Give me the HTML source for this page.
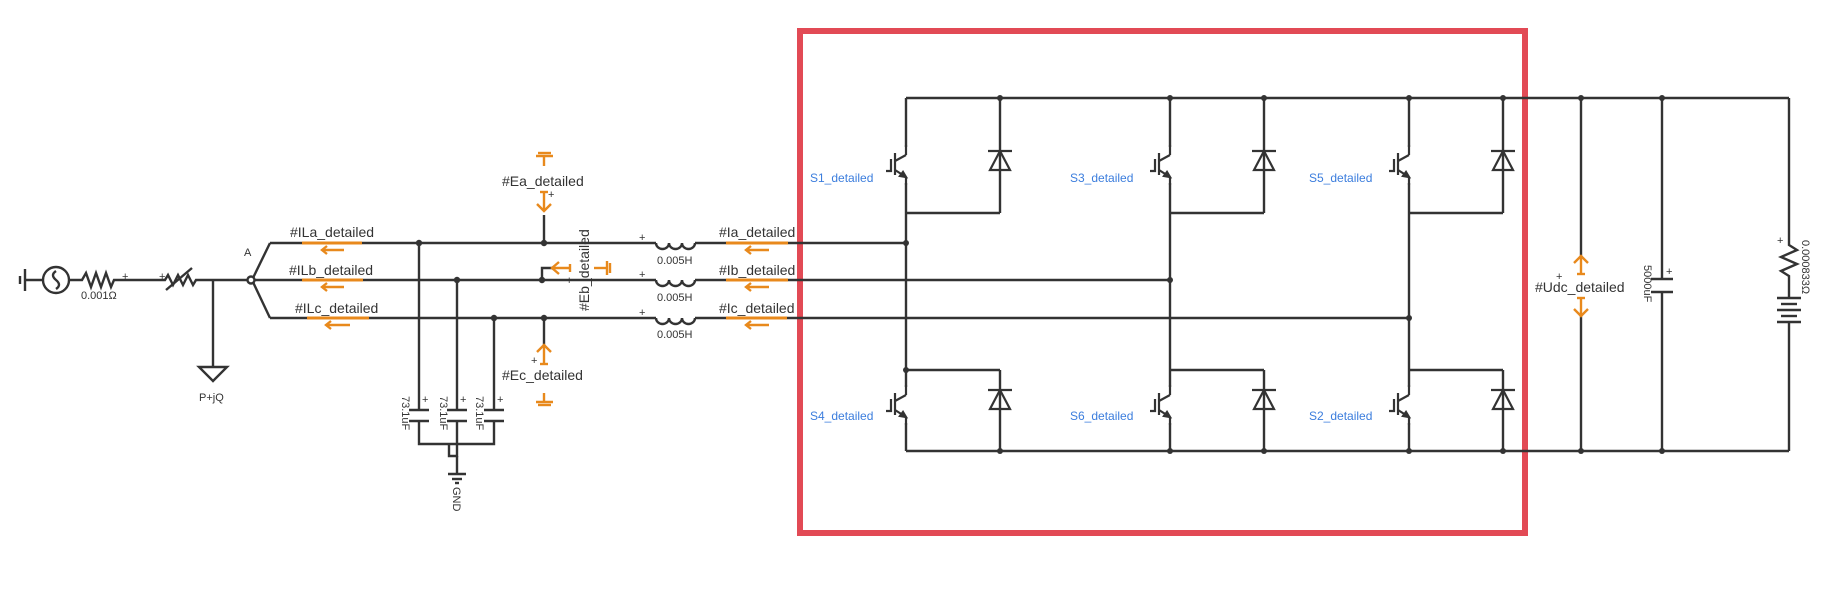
<!DOCTYPE html>
<html><head><meta charset="utf-8"><style>
html,body{margin:0;padding:0;background:#fff;}
svg{display:block;}
text{font-family:"Liberation Sans","DejaVu Sans",sans-serif;}
</style></head><body>
<svg width="1844" height="589" viewBox="0 0 1844 589" xmlns="http://www.w3.org/2000/svg">
<defs>
<g id="igbtU">
 <line x1="0" y1="-20" x2="0" y2="-10" />
 <line x1="0" y1="-10" x2="-11" y2="-4" />
 <line x1="-11" y1="-12" x2="-11" y2="10" />
 <polyline points="-20,6 -15,6 -15,-6" fill="none"/>
 <line x1="-11" y1="5" x2="0" y2="12" />
 <polygon points="0,12 -6,11 -3,7" fill="#333"/>
 <line x1="0" y1="12" x2="0" y2="20" />
</g>
<g id="diode">
 <line x1="-12" y1="-11" x2="12" y2="-11"/>
 <polygon points="0,-11 -10,8 10,8" fill="none"/>
</g>
</defs>

<rect x="800" y="31" width="725" height="502" fill="none" stroke="#e24a55" stroke-width="6"/>

<g stroke="#333" stroke-width="2.4" fill="none">
 <line x1="906" y1="98" x2="1789" y2="98"/>
 <line x1="906" y1="451" x2="1789" y2="451"/>
 <line x1="1789" y1="98" x2="1789" y2="240"/>
 <line x1="1789" y1="322" x2="1789" y2="451"/>

 <g id="leg1">
  <line x1="906" y1="98" x2="906" y2="147"/>
  <line x1="906" y1="183" x2="906" y2="387"/>
  <line x1="906" y1="423" x2="906" y2="451"/>
  <line x1="906" y1="213" x2="1000" y2="213"/>
  <line x1="1000" y1="98" x2="1000" y2="213"/>
  <line x1="906" y1="370" x2="1000" y2="370"/>
  <line x1="1000" y1="370" x2="1000" y2="451"/>
 </g>
 <use href="#leg1" x="264"/>
 <use href="#leg1" x="503"/>
 <g stroke-width="2.2">
  <use href="#igbtU" x="906" y="165"/><use href="#igbtU" x="906" y="405"/>
  <use href="#igbtU" x="1170" y="165"/><use href="#igbtU" x="1170" y="405"/>
  <use href="#igbtU" x="1409" y="165"/><use href="#igbtU" x="1409" y="405"/>
 </g>
 <g stroke-width="2.2" fill="#fff">
  <use href="#diode" x="1000" y="162"/><use href="#diode" x="1000" y="401"/>
  <use href="#diode" x="1264" y="162"/><use href="#diode" x="1264" y="401"/>
  <use href="#diode" x="1503" y="162"/><use href="#diode" x="1503" y="401"/>
 </g>

 <line x1="1581" y1="98" x2="1581" y2="256"/>
 <line x1="1581" y1="316" x2="1581" y2="451"/>
 <line x1="1662" y1="98" x2="1662" y2="279"/>
 <line x1="1662" y1="292" x2="1662" y2="451"/>
 <line x1="1651" y1="279" x2="1673" y2="279"/>
 <line x1="1651" y1="292" x2="1673" y2="292"/>
 <polyline points="1789,240 1789,245 1797,250 1781,257 1797,264 1781,271 1789,276 1789,298"/>
 <line x1="1777" y1="298" x2="1801" y2="298"/>
 <line x1="1781" y1="304" x2="1797" y2="304"/>
 <line x1="1777" y1="310" x2="1801" y2="310"/>
 <line x1="1781" y1="316" x2="1797" y2="316"/>
 <line x1="1777" y1="322" x2="1801" y2="322"/>

 <line x1="270" y1="243" x2="656" y2="243"/>
 <line x1="695" y1="243" x2="906" y2="243"/>
 <line x1="252" y1="280" x2="656" y2="280"/>
 <line x1="695" y1="280" x2="1170" y2="280"/>
 <line x1="270" y1="318" x2="656" y2="318"/>
 <line x1="695" y1="318" x2="1409" y2="318"/>
 <line x1="252" y1="280" x2="270" y2="243"/>
 <line x1="252" y1="280" x2="270" y2="318"/>
 <path d="M656 243 a6.5 6 0 0 0 13 0 a6.5 6 0 0 0 13 0 a6.5 6 0 0 0 13 0"/>
 <path d="M656 280 a6.5 6 0 0 0 13 0 a6.5 6 0 0 0 13 0 a6.5 6 0 0 0 13 0"/>
 <path d="M656 318 a6.5 6 0 0 0 13 0 a6.5 6 0 0 0 13 0 a6.5 6 0 0 0 13 0"/>

 <line x1="20" y1="276" x2="20" y2="284"/>
 <line x1="25" y1="269" x2="25" y2="291"/>
 <line x1="25" y1="280" x2="43" y2="280"/>
 <circle cx="56" cy="280" r="13"/>
 <path d="M56 271 q-6 4 0 9 q6 5 0 9"/>
 <polyline points="69,280 82,280 86,273 91,287 96,273 101,287 106,273 111,287 114,280 165,280 168,275 173,285 178,275 183,285 188,275 193,285 196,280 252,280"/>
 <line x1="166" y1="290" x2="192" y2="268"/>
 <line x1="213" y1="280" x2="213" y2="367"/>
 <polygon points="199,367 227,367 213,381"/>
 <circle cx="251" cy="280" r="3.5" fill="#fff"/>

 <line x1="419" y1="243" x2="419" y2="410"/>
 <line x1="457" y1="280" x2="457" y2="410"/>
 <line x1="494" y1="318" x2="494" y2="410"/>
 <line x1="409" y1="410" x2="429" y2="410"/><line x1="409" y1="421" x2="429" y2="421"/>
 <line x1="447" y1="410" x2="467" y2="410"/><line x1="447" y1="421" x2="467" y2="421"/>
 <line x1="484" y1="410" x2="504" y2="410"/><line x1="484" y1="421" x2="504" y2="421"/>
 <polyline points="419,421 419,444 494,444 494,421"/>
 <line x1="457" y1="421" x2="457" y2="444"/>
 <polyline points="457,444 457,456 449,456 449,444"/>
 <line x1="457" y1="456" x2="457" y2="474"/>
 <line x1="448" y1="474" x2="466" y2="474"/>
 <line x1="452" y1="479" x2="462" y2="479"/>
 <line x1="455" y1="483" x2="459" y2="483"/>

 <line x1="544" y1="215" x2="544" y2="243"/>
 <line x1="544" y1="318" x2="544" y2="345"/>
 <polyline points="542,280 542,268 552,268"/>
</g>

<g fill="#333">
 <circle cx="419" cy="243" r="3.2"/><circle cx="457" cy="280" r="3.2"/><circle cx="494" cy="318" r="3.2"/>
 <circle cx="544" cy="243" r="3.2"/><circle cx="542" cy="280" r="3.2"/><circle cx="544" cy="318" r="3.2"/>
 <circle cx="906" cy="243" r="3"/><circle cx="1170" cy="280" r="3"/><circle cx="1409" cy="318" r="3"/>
 <circle cx="906" cy="370" r="3"/>
 <circle cx="1000" cy="98" r="3"/><circle cx="1170" cy="98" r="3"/><circle cx="1264" cy="98" r="3"/><circle cx="1409" cy="98" r="3"/><circle cx="1503" cy="98" r="3"/><circle cx="1581" cy="98" r="3"/><circle cx="1662" cy="98" r="3"/>
 <circle cx="1000" cy="451" r="3"/><circle cx="1170" cy="451" r="3"/><circle cx="1264" cy="451" r="3"/><circle cx="1409" cy="451" r="3"/><circle cx="1503" cy="451" r="3"/><circle cx="1581" cy="451" r="3"/><circle cx="1662" cy="451" r="3"/>
</g>

<g stroke="#e8891c" stroke-width="3" fill="none">
 <line x1="302" y1="243" x2="362" y2="243"/>
 <line x1="302" y1="280" x2="363" y2="280"/>
 <line x1="307" y1="318" x2="369" y2="318"/>
 <line x1="726" y1="243" x2="788" y2="243"/>
 <line x1="726" y1="280" x2="788" y2="280"/>
 <line x1="726" y1="318" x2="787" y2="318"/>
</g>
<g stroke="#e8891c" stroke-width="2.4" fill="none">
 <line x1="322" y1="250" x2="344" y2="250"/><polyline points="327,246 322,250 327,254"/>
 <line x1="322" y1="287" x2="344" y2="287"/><polyline points="327,283 322,287 327,291"/>
 <line x1="326" y1="325" x2="350" y2="325"/><polyline points="331,321 326,325 331,329"/>
 <line x1="746" y1="250" x2="769" y2="250"/><polyline points="751,246 746,250 751,254"/>
 <line x1="746" y1="287" x2="769" y2="287"/><polyline points="751,283 746,287 751,291"/>
 <line x1="746" y1="325" x2="769" y2="325"/><polyline points="751,321 746,325 751,329"/>
 <line x1="538" y1="153" x2="551" y2="153"/><line x1="536" y1="156" x2="553" y2="156"/><line x1="544" y1="156" x2="544" y2="166"/>
 <line x1="540" y1="192" x2="548" y2="192"/><line x1="544" y1="192" x2="544" y2="210"/><polyline points="537,204 544,211 551,204"/>
 <line x1="544" y1="345" x2="544" y2="364"/><polyline points="537,352 544,345 551,352"/><line x1="540" y1="364" x2="548" y2="364"/>
 <line x1="544" y1="393" x2="544" y2="402"/><line x1="536" y1="402" x2="553" y2="402"/><line x1="538" y1="405" x2="551" y2="405"/>
 <line x1="552" y1="268" x2="570" y2="268"/><polyline points="559,262 552,268 559,274"/><line x1="570" y1="264" x2="570" y2="272"/>
 <line x1="594" y1="268" x2="607" y2="268"/><line x1="607" y1="261" x2="607" y2="275"/><line x1="610" y1="263" x2="610" y2="273"/>
 <line x1="1581" y1="256" x2="1581" y2="274"/><polyline points="1574,263 1581,256 1588,263"/><line x1="1577" y1="274" x2="1585" y2="274"/>
 <line x1="1577" y1="298" x2="1585" y2="298"/><line x1="1581" y1="298" x2="1581" y2="316"/><polyline points="1574,309 1581,316 1588,309"/>
</g>

<g font-size="14" fill="#333">
 <text x="290" y="237">#ILa_detailed</text>
 <text x="289" y="275">#ILb_detailed</text>
 <text x="295" y="313">#ILc_detailed</text>
 <text x="719" y="237">#Ia_detailed</text>
 <text x="719" y="275">#Ib_detailed</text>
 <text x="719" y="313">#Ic_detailed</text>
 <text x="502" y="186">#Ea_detailed</text>
 <text x="502" y="380">#Ec_detailed</text>
 <text x="1535" y="292">#Udc_detailed</text>
 <text transform="translate(589,311) rotate(-90)">#Eb_detailed</text>
</g>
<g font-size="11" fill="#333">
 <text x="81" y="299">0.001Ω</text>
 <text x="199" y="401">P+jQ</text>
 <text x="244" y="256">A</text>
 <text x="657" y="264">0.005H</text>
 <text x="657" y="301">0.005H</text>
 <text x="657" y="338">0.005H</text>
 <text x="122" y="280">+</text><text x="159" y="280">+</text>
 <text x="639" y="241">+</text><text x="639" y="278">+</text><text x="639" y="316">+</text>
 <text x="548" y="198">+</text><text x="531" y="364">+</text><text x="566" y="284">+</text>
 <text x="1556" y="280">+</text><text x="1666" y="275">+</text><text x="1777" y="244">+</text>
 <text x="422" y="403">+</text><text x="460" y="403">+</text><text x="497" y="403">+</text>
 <text transform="translate(402,396) rotate(90)">73.1uF</text>
 <text transform="translate(440,396) rotate(90)">73.1uF</text>
 <text transform="translate(476,396) rotate(90)">73.1uF</text>
 <text transform="translate(453,487) rotate(90)">GND</text>
 <text transform="translate(1644,265) rotate(90)">5000uF</text>
 <text transform="translate(1802,240) rotate(90)">0.000833Ω</text>
</g>
<g font-size="12" fill="#3b7ddd">
 <text x="810" y="182">S1_detailed</text>
 <text x="1070" y="182">S3_detailed</text>
 <text x="1309" y="182">S5_detailed</text>
 <text x="810" y="420">S4_detailed</text>
 <text x="1070" y="420">S6_detailed</text>
 <text x="1309" y="420">S2_detailed</text>
</g>
</svg>
</body></html>
